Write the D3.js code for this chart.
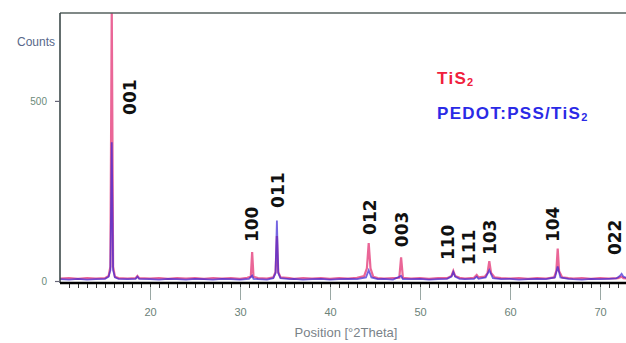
<!DOCTYPE html>
<html>
<head>
<meta charset="utf-8">
<script src="https://cdn.jsdelivr.net/npm/d3@7"></script>
<style>
  html, body { margin: 0; padding: 0; background: #fff; }
  svg { display: block; }
</style>
</head>
<body>
<svg id="chart" width="626" height="343"></svg>
<script>
// ---- data ----
const xDomain = [10, 72.9];
const yDomain = [0, 744];
const xMajorTicks = [20, 30, 40, 50, 60, 70];
const yTicks = [0, 500];
const seriesNames = ["TiS2", "PEDOT:PSS/TiS2"];

// TiS2 pattern: [2theta, counts]
const tis2 = [[10.0,7],[11,8],[12,6],[13,8],[14,7],[15.0,8],[15.4,14],[15.6,40],[15.75,760],[15.9,40],[16.1,12],[16.5,8],[17.5,7],[18.4,8],[18.6,14],[18.8,8],[20,7],[21,8],[22,6],[23,8],[24,7],[25,8],[26,6],[27,8],[28,7],[29,8],[30,6],[30.8,9],[31.2,12],[31.35,80],[31.5,12],[32,8],[33,7],[33.7,10],[33.95,25],[34.1,125],[34.25,25],[34.5,10],[35.5,8],[36,6],[37,8],[38,7],[39,8],[40,6],[41,8],[42,7],[43,9],[43.8,14],[44.1,35],[44.3,105],[44.5,35],[44.8,12],[45.3,8],[46,7],[47,8],[47.7,9],[47.9,66],[48.1,9],[49,7],[50,8],[51,6],[52,8],[53,8],[53.5,14],[53.7,28],[53.9,14],[54.4,9],[55,7],[56,9],[56.3,17],[56.5,10],[57.2,12],[57.5,22],[57.7,55],[57.9,22],[58.3,10],[59,8],[60,7],[61,8],[62,6],[63,8],[64,7],[64.9,10],[65.15,28],[65.3,90],[65.45,28],[65.8,10],[66.5,8],[67,7],[68,8],[69,6],[70,8],[71,7],[72,8],[72.4,12],[72.6,8],[73,7]];

// PEDOT:PSS/TiS2 pattern: [2theta, counts]
const pedot = [[10,5],[11,4],[12,6],[13,4],[14,5],[15.0,6],[15.4,12],[15.6,30],[15.75,385],[15.9,30],[16.1,10],[16.5,6],[17.5,5],[18.4,6],[18.6,12],[18.8,6],[20,5],[21,4],[22,6],[23,5],[24,4],[25,6],[26,5],[27,4],[28,6],[29,5],[30,4],[31,6],[31.35,15],[31.5,6],[32,5],[33,4],[33.7,8],[33.95,22],[34.1,168],[34.25,22],[34.5,8],[35.5,5],[36,6],[37,4],[38,5],[39,6],[40,4],[41,5],[42,6],[43,5],[44.0,10],[44.3,30],[44.6,10],[45.3,5],[46,6],[47,4],[47.9,14],[48.1,5],[49,5],[50,6],[51,4],[52,5],[53,6],[53.5,12],[53.7,25],[53.9,12],[54.4,6],[55,5],[56,6],[56.3,12],[56.5,6],[57.3,10],[57.7,30],[58.1,8],[59,5],[60,6],[61,4],[62,5],[63,6],[64,5],[65,10],[65.3,40],[65.6,10],[66.5,6],[67,5],[68,4],[69,6],[70,5],[71,6],[71.8,7],[72.2,14],[72.4,20],[72.6,12],[73,8]];

// Miller-index labels: text, 2theta of label centre, count at label foot
const peakLabels = ["001", "100", "011", "012", "003", "110", "111", "103", "104", "022"];
const peakLabelTheta = [17.78, 31.33, 34.22, 44.44, 47.98, 53.11, 55.44, 57.78, 64.78, 71.7];
const peakLabelFoot = [461, 108, 203, 128, 94, 58, 44, 72, 108, 72];

// ---- drawing ----
const svg = d3.select("#chart");
const L = 60, R = 626, T = 13, B = 281;
const x = d3.scaleLinear().domain(xDomain).range([L, L + (xDomain[1] - xDomain[0]) * 9]);
const y = d3.scaleLinear().domain(yDomain).range([B, T]);

svg.append("defs").append("clipPath").attr("id", "plotclip")
  .append("rect").attr("x", L).attr("y", T).attr("width", R - L).attr("height", 283 - T);

const line = d3.line().x(d => x(d[0])).y(d => y(d[1]));
const plot = svg.append("g").attr("clip-path", "url(#plotclip)");
plot.append("path").datum(tis2).attr("d", line)
  .attr("fill", "none").attr("stroke", "#e8558c").attr("stroke-width", 2.2).attr("opacity", 0.9);
plot.append("path").datum(pedot).attr("d", line)
  .attr("fill", "none").attr("stroke", "#3a24d4").attr("stroke-width", 1.8).attr("opacity", 0.7);

// top border & left axis
svg.append("line").attr("x1", L).attr("x2", R).attr("y1", T).attr("y2", T)
  .attr("stroke", "#56625f").attr("stroke-width", 1.6);
svg.append("line").attr("x1", L).attr("x2", L).attr("y1", T).attr("y2", 283)
  .attr("stroke", "#3d4a4a").attr("stroke-width", 1.6);

// bottom axis: minor ticks
const minor = svg.append("g").attr("transform", "translate(0,283)")
  .call(d3.axisBottom(x).tickValues(d3.range(11, 73)).tickSize(5).tickFormat(""));
minor.select(".domain").remove();
minor.selectAll("line").attr("stroke", "#333").attr("stroke-width", 1);

// major ticks + labels
const major = svg.append("g").attr("transform", "translate(0,287)")
  .call(d3.axisBottom(x).tickValues(xMajorTicks).tickSize(13).tickPadding(8).tickFormat(d3.format("d")));
major.select(".domain").remove();
major.selectAll("line").attr("stroke", "#9aa8a4").attr("stroke-width", 1);
major.selectAll("text").attr("fill", "#6c8278").attr("font-size", "11px")
  .attr("font-family", "Liberation Sans, Arial, sans-serif");

svg.append("line").attr("x1", L).attr("x2", R).attr("y1", 283).attr("y2", 283)
  .attr("stroke", "#000").attr("stroke-width", 2.5);

// y axis ticks
const yax = svg.append("g").attr("transform", `translate(${L},0)`)
  .call(d3.axisLeft(y).tickValues(yTicks).tickSize(5).tickPadding(8).tickFormat(d3.format("d")));
yax.select(".domain").remove();
yax.selectAll("line").attr("stroke", "#667").attr("stroke-width", 1.2);
yax.selectAll("text").attr("fill", "#6c8a7a").attr("font-size", "10px")
  .attr("font-family", "Liberation Sans, Arial, sans-serif");

svg.append("text").attr("x", 55).attr("y", 46).attr("text-anchor", "end")
  .attr("font-family", "Liberation Sans, Arial, sans-serif").attr("font-size", "12px")
  .attr("fill", "#58688a").text("Counts");

svg.append("text").attr("x", 346).attr("y", 337).attr("text-anchor", "middle")
  .attr("font-family", "Liberation Sans, Arial, sans-serif").attr("font-size", "13px")
  .attr("fill", "#7a8288").text("Position [°2Theta]");

// peak labels
svg.append("g").selectAll("text").data(peakLabels).join("text")
  .attr("transform", (d, i) => `translate(${x(peakLabelTheta[i])},${y(peakLabelFoot[i])}) rotate(-90)`)
  .attr("dy", "0.36em")
  .attr("font-family", "DejaVu Sans, sans-serif").attr("font-weight", "bold").attr("font-size", "17px")
  .attr("fill", "#111").text(d => d);

// legend
const legColors = ["#f0203c", "#2a2ae6"];
const legY = [84, 119];
seriesNames.forEach((name, i) => {
  const t = svg.append("text").attr("x", 437).attr("y", legY[i])
    .attr("font-family", "Liberation Sans, Arial, sans-serif").attr("font-weight", "bold")
    .attr("font-size", "17px").attr("letter-spacing", "1.3px").attr("fill", legColors[i]);
  t.append("tspan").text(name.slice(0, -1));
  t.append("tspan").attr("font-size", "11px").attr("dy", "2").text(name.slice(-1));
});
</script>
</body>
</html>
